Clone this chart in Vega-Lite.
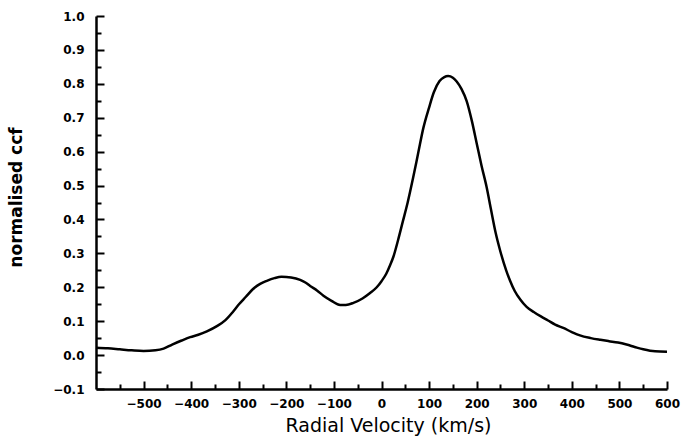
{
  "$schema": "https://vega.github.io/schema/vega-lite/v6.json",
  "autosize": "none",
  "width": 571,
  "height": 373,
  "padding": {"left": 96, "top": 16, "right": 14, "bottom": 55},
  "background": "white",
  "config": {"view": {"stroke": null}},
  "data": {"values": [
    {"v": -600, "ccf": 0.022}, {"v": -575, "ccf": 0.02}, {"v": -550, "ccf": 0.017}, {"v": -525, "ccf": 0.014},
    {"v": -500, "ccf": 0.012}, {"v": -475, "ccf": 0.014}, {"v": -458, "ccf": 0.019}, {"v": -440, "ccf": 0.031},
    {"v": -420, "ccf": 0.043}, {"v": -402, "ccf": 0.053}, {"v": -385, "ccf": 0.06}, {"v": -367, "ccf": 0.07},
    {"v": -345, "ccf": 0.086}, {"v": -328, "ccf": 0.103}, {"v": -312, "ccf": 0.128}, {"v": -300, "ccf": 0.149},
    {"v": -285, "ccf": 0.172}, {"v": -270, "ccf": 0.195}, {"v": -255, "ccf": 0.21}, {"v": -241, "ccf": 0.219},
    {"v": -225, "ccf": 0.227}, {"v": -210, "ccf": 0.231}, {"v": -190, "ccf": 0.229}, {"v": -171, "ccf": 0.222},
    {"v": -160, "ccf": 0.214}, {"v": -150, "ccf": 0.204}, {"v": -135, "ccf": 0.19}, {"v": -122, "ccf": 0.175},
    {"v": -105, "ccf": 0.16}, {"v": -87, "ccf": 0.148}, {"v": -75, "ccf": 0.148}, {"v": -59, "ccf": 0.154},
    {"v": -40, "ccf": 0.167}, {"v": -24, "ccf": 0.183}, {"v": -10, "ccf": 0.2}, {"v": 0, "ccf": 0.218},
    {"v": 10, "ccf": 0.24}, {"v": 18, "ccf": 0.265}, {"v": 25, "ccf": 0.29}, {"v": 35, "ccf": 0.34},
    {"v": 45, "ccf": 0.395}, {"v": 55, "ccf": 0.45}, {"v": 66, "ccf": 0.52}, {"v": 77, "ccf": 0.595},
    {"v": 88, "ccf": 0.67}, {"v": 100, "ccf": 0.73}, {"v": 110, "ccf": 0.775}, {"v": 122, "ccf": 0.808},
    {"v": 132, "ccf": 0.82}, {"v": 140, "ccf": 0.823}, {"v": 150, "ccf": 0.818}, {"v": 158, "ccf": 0.807},
    {"v": 168, "ccf": 0.785}, {"v": 179, "ccf": 0.749}, {"v": 190, "ccf": 0.69}, {"v": 200, "ccf": 0.625},
    {"v": 210, "ccf": 0.56}, {"v": 221, "ccf": 0.495}, {"v": 230, "ccf": 0.43}, {"v": 240, "ccf": 0.36},
    {"v": 249, "ccf": 0.31}, {"v": 262, "ccf": 0.25}, {"v": 270, "ccf": 0.22}, {"v": 280, "ccf": 0.189},
    {"v": 292, "ccf": 0.163}, {"v": 305, "ccf": 0.142}, {"v": 320, "ccf": 0.127}, {"v": 335, "ccf": 0.114},
    {"v": 350, "ccf": 0.102}, {"v": 365, "ccf": 0.09}, {"v": 382, "ccf": 0.08}, {"v": 400, "ccf": 0.068},
    {"v": 417, "ccf": 0.058}, {"v": 440, "ccf": 0.05}, {"v": 460, "ccf": 0.045}, {"v": 478, "ccf": 0.041},
    {"v": 497, "ccf": 0.037}, {"v": 515, "ccf": 0.031}, {"v": 532, "ccf": 0.024}, {"v": 550, "ccf": 0.017},
    {"v": 575, "ccf": 0.011}, {"v": 600, "ccf": 0.01}
  ]},
  "mark": {"type": "line", "color": "black", "strokeWidth": 2.5, "interpolate": "monotone"},
  "encoding": {
    "x": {
      "field": "v", "type": "quantitative",
      "scale": {"domain": [-600, 600], "nice": false, "zero": false},
      "axis": {
        "title": "Radial Velocity (km/s)",
        "values": [-550, -500, -450, -400, -350, -300, -250, -200, -150, -100, -50, 0, 50, 100, 150, 200, 250, 300, 350, 400, 450, 500, 550, 600],
        "labelExpr": "datum.value % 100 === 0 ? replace(format(datum.value, 'd'), '-', '−') : ''",
        "grid": false,
        "domainColor": "black", "domainWidth": 2.5,
        "tickColor": "black", "tickWidth": 2,
        "tickSize": {"condition": {"test": "datum.value % 100 === 0", "value": -8}, "value": -5},
        "labelPadding": 17,
        "labelFont": "DejaVu Sans", "labelFontSize": 12, "labelFontWeight": "bold", "labelColor": "black",
        "labelFlush": false, "labelOverlap": false,
        "titleFont": "DejaVu Sans", "titleFontSize": 19, "titleFontWeight": "normal", "titleColor": "black",
        "titleX": 292,
        "titlePadding": 4
      }
    },
    "y": {
      "field": "ccf", "type": "quantitative",
      "scale": {"domain": [-0.1, 1.0], "nice": false, "zero": false},
      "axis": {
        "title": "normalised ccf",
        "values": [-0.1, -0.05, 0, 0.05, 0.1, 0.15, 0.2, 0.25, 0.3, 0.35, 0.4, 0.45, 0.5, 0.55, 0.6, 0.65, 0.7, 0.75, 0.8, 0.85, 0.9, 0.95, 1.0],
        "labelExpr": "abs(round(datum.value * 100)) % 10 === 0 ? replace(format(datum.value, '.1f'), '-', '−') : ''",
        "grid": false,
        "domainColor": "black", "domainWidth": 2.5,
        "tickColor": "black", "tickWidth": 2,
        "tickSize": {"condition": {"test": "abs(round(datum.value * 100)) % 10 === 0", "value": -8}, "value": -5},
        "labelPadding": 20,
        "labelFont": "DejaVu Sans", "labelFontSize": 12, "labelFontWeight": "bold", "labelColor": "black",
        "labelFlush": false, "labelOverlap": false,
        "titleFont": "DejaVu Sans", "titleFontSize": 17, "titleFontWeight": "bold", "titleColor": "black",
        "titleY": 181,
        "titlePadding": 27
      }
    }
  }
}
